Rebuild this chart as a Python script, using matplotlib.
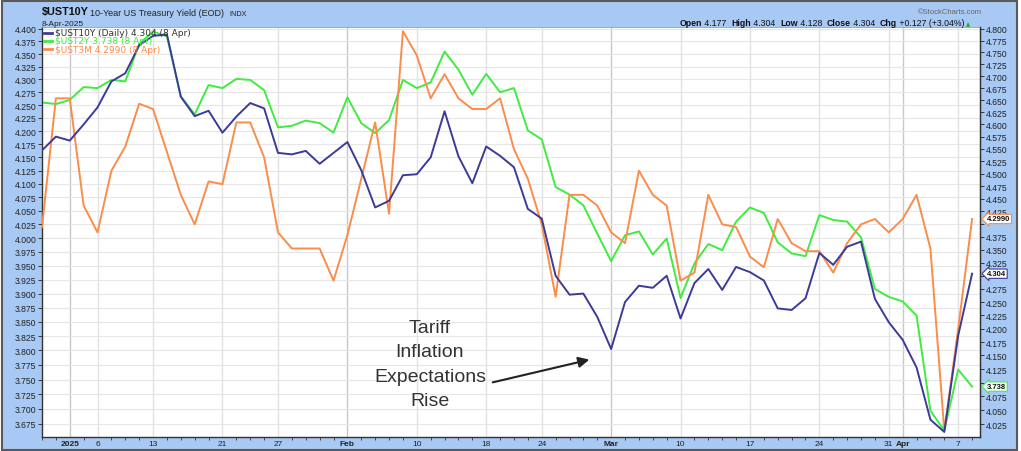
import numpy as np
import pandas as pd
import matplotlib
matplotlib.use('Agg')
import matplotlib.pyplot as plt
from matplotlib.lines import Line2D
from matplotlib.patches import Rectangle
from matplotlib.ticker import FixedLocator, NullLocator, FuncFormatter
from matplotlib.transforms import blended_transform_factory

plt.rcParams['font.family'] = ['Liberation Sans', 'DejaVu Sans']

# trading days on the chart (30 Dec 2024 .. 8 Apr 2025)
holidays = ['2025-01-01', '2025-01-09', '2025-01-20', '2025-02-17']
dates = pd.bdate_range('2024-12-30', '2025-04-08', freq='C', holidays=holidays)

# 10-year yield (right scale)
ust10y = [4.547, 4.575, 4.567, 4.600, 4.635, 4.689, 4.706, 4.765, 4.785, 4.788,
          4.657, 4.617, 4.628, 4.583, 4.616, 4.644, 4.633, 4.542, 4.539, 4.546,
          4.520, 4.542, 4.564, 4.507, 4.433, 4.446, 4.497, 4.499, 4.533, 4.627,
          4.535, 4.481, 4.555, 4.536, 4.513, 4.430, 4.411, 4.300, 4.264, 4.266,
          4.222, 4.162, 4.250, 4.281, 4.277, 4.300, 4.219, 4.286, 4.313, 4.273,
          4.317, 4.307, 4.291, 4.238, 4.235, 4.257, 4.344, 4.321, 4.356, 4.366,
          4.256, 4.212, 4.179, 4.128, 4.033, 4.011, 4.187, 4.304]

# 2-year yield (left scale)
ust2y = [4.255, 4.252, 4.260, 4.285, 4.283, 4.299, 4.296, 4.370, 4.395, 4.385,
         4.267, 4.232, 4.289, 4.283, 4.301, 4.299, 4.279, 4.207, 4.210, 4.220,
         4.215, 4.197, 4.265, 4.215, 4.196, 4.221, 4.299, 4.283, 4.294, 4.355,
         4.319, 4.270, 4.311, 4.275, 4.283, 4.201, 4.184, 4.094, 4.080, 4.060,
         4.008, 3.958, 4.005, 4.012, 3.970, 3.999, 3.892, 3.954, 3.989, 3.978,
         4.030, 4.056, 4.046, 3.992, 3.972, 3.967, 4.042, 4.033, 4.030, 4.001,
         3.908, 3.894, 3.886, 3.861, 3.697, 3.664, 3.767, 3.738]

# 3-month yield (own hidden scale)
ust3m = [4.296, 4.344, 4.344, 4.304, 4.294, 4.317, 4.326, 4.342, 4.340, 4.324,
         4.308, 4.297, 4.313, 4.312, 4.335, 4.335, 4.322, 4.294, 4.288, 4.288,
         4.288, 4.276, 4.293, 4.314, 4.335, 4.301, 4.369, 4.360, 4.344, 4.353,
         4.344, 4.340, 4.340, 4.344, 4.325, 4.314, 4.297, 4.270, 4.308, 4.308,
         4.304, 4.294, 4.290, 4.317, 4.308, 4.304, 4.276, 4.279, 4.308, 4.297,
         4.296, 4.285, 4.281, 4.299, 4.290, 4.287, 4.287, 4.279, 4.290, 4.297,
         4.299, 4.294, 4.299, 4.308, 4.288, 4.220, 4.258, 4.299]

tick_dates = ['2025-01-02', '2025-01-06', '2025-01-13', '2025-01-21', '2025-01-27',
              '2025-02-03', '2025-02-10', '2025-02-18', '2025-02-24', '2025-03-03',
              '2025-03-10', '2025-03-17', '2025-03-24', '2025-03-31', '2025-04-01',
              '2025-04-07']
tick_labels = ['2025', '6', '13', '21', '27', 'Feb', '10', '18', '24', 'Mar',
               '10', '17', '24', '31', 'Apr', '7']
month_labels = ['2025', 'Feb', 'Mar', 'Apr']

left_ticks = np.arange(3.675, 4.4001, 0.025)
right_ticks = np.arange(4.025, 4.8001, 0.025)

c10 = '#3b3b98'
c2 = '#3fec3f'
c3m = '#fb8c4a'
frame_blue = '#a8c9f3'

W, H = 1021, 452
fig = plt.figure(figsize=(W / 100, H / 100), dpi=100, facecolor='white')


def fx(px):
    return px / W


def fy(py):
    return 1 - py / H


fig.patches.append(Rectangle((fx(2), fy(450.5)), fx(1015), 448.5 / H, transform=fig.transFigure,
                             facecolor=frame_blue, edgecolor='#5a5a5a', lw=1.5, zorder=-5))

ax = fig.add_axes([fx(42), fy(438), 938 / W, 410 / H])
ax3 = ax.twinx()
ax2 = ax.twinx()

x = np.arange(len(dates))
xticks = [dates.get_loc(pd.Timestamp(d)) for d in tick_dates]
jan2 = dates.get_loc(pd.Timestamp('2025-01-02'))

# 2Y on the left scale
ax.plot(x, ust2y, color=c2, lw=1.4)
ax.set_yscale('log')
ax.set_ylim(3.653, 4.404)
ax.yaxis.set_major_locator(FixedLocator(left_ticks))
ax.yaxis.set_minor_locator(NullLocator())
ax.yaxis.set_major_formatter(FuncFormatter(lambda v, p: f'{v:.3f}'))
ax.set_xlim(jan2 - 20 / 14, jan2 + 918 / 14)
ax.grid(axis='y', color='#e6e6e6', lw=0.8)
ax.set_axisbelow(True)
for xt, lab in zip(xticks, tick_labels):
    col = '#c8c8c8' if lab in month_labels else '#e2e2e2'
    ax.axvline(xt, color=col, lw=1.0, zorder=0)
ax.set_xticks(xticks)
ax.set_xticklabels(tick_labels)
ax.set_xticks(x, minor=True)
ax.tick_params(axis='x', which='major', length=0, pad=2.5, labelsize=6, colors='#222222')
ax.tick_params(axis='x', which='minor', length=2, width=0.6, direction='out', color='#333333')
ax.tick_params(axis='y', direction='out', length=3, width=0.6, labelsize=6.2, pad=1,
               colors='#222222')
for t in ax.get_xticklabels():
    if t.get_text() in month_labels:
        t.set_fontweight('bold')
for side in ['left', 'bottom', 'right']:
    ax.spines[side].set_color('#333333')
    ax.spines[side].set_linewidth(1.0)
ax.spines['top'].set_color('#9a9a9a')
ax.spines['top'].set_linewidth(0.6)

# 3M on its own hidden scale
ax3.plot(x, ust3m, color=c3m, lw=1.4)
ax3.set_ylim(4.2177, 4.3706)
ax3.axis('off')

# 10Y on the right scale
ax2.plot(x, ust10y, color=c10, lw=1.4)
ax2.set_yscale('log')
ax2.set_ylim(4.002, 4.804)
ax2.yaxis.set_major_locator(FixedLocator(right_ticks))
ax2.yaxis.set_minor_locator(NullLocator())
ax2.tick_params(axis='y', direction='out', length=3, width=0.6, labelsize=6.2, pad=1,
                colors='#222222')
for side in ['left', 'top', 'bottom']:
    ax2.spines[side].set_visible(False)
ax2.spines['right'].set_color('#333333')

# last-value tags on the right axis; tick labels hidden under a tag are dropped
tags = [(ax3, ust3m[-1], f'{ust3m[-1]:.4f}', c3m),
        (ax2, ust10y[-1], f'{ust10y[-1]:.3f}', c10),
        (ax, ust2y[-1], f'{ust2y[-1]:.3f}', c2)]
tag_px = [src.transData.transform((0, val))[1] for src, val, _, _ in tags]


def right_fmt(v, p):
    ypix = ax2.transData.transform((0, v))[1]
    if any(abs(ypix - t) < 7.5 for t in tag_px):
        return ''
    return f'{v:.3f}'


ax2.yaxis.set_major_formatter(FuncFormatter(right_fmt))

for src, val, txt, col in tags:
    tr = blended_transform_factory(ax2.transAxes, src.transData)
    ax2.annotate(txt, xy=(1.0, val), xycoords=tr, xytext=(5, 0), textcoords='offset points',
                 ha='left', va='center', fontsize=5.5, fontweight='bold', color='#111111',
                 bbox=dict(boxstyle='larrow,pad=0.15', fc='white', ec=col, lw=0.8),
                 annotation_clip=False, zorder=20)

# legend
leg_rows = [(f'$UST10Y (Daily) {ust10y[-1]:.3f} (8 Apr)', c10, '#333333'),
            (f'$UST2Y {ust2y[-1]:.3f} (8 Apr)', c2, c2),
            (f'$UST3M {ust3m[-1]:.4f} (8 Apr)', c3m, c3m)]
for k, (txt, lc, tc) in enumerate(leg_rows):
    yy = 33.5 + 8.4 * k
    fig.lines.append(Line2D([fx(44), fx(52)], [fy(yy), fy(yy)], color=lc, lw=2.0,
                            transform=fig.transFigure))
    fig.text(fx(55), fy(yy), txt, fontsize=6.5, color=tc, va='center', ha='left',
             family='DejaVu Sans')

# annotation
ax2.text(0.4136, 0.178, 'Tariff\nInflation\nExpectations\nRise', transform=ax2.transAxes,
         ha='center', va='center', fontsize=14, color='#333333', linespacing=1.57, zorder=15)
ax2.annotate('', xy=(0.5864, 0.1902), xytext=(0.4776, 0.1317), xycoords='axes fraction',
             arrowprops=dict(arrowstyle='-|>', color='#222222', lw=1.5, mutation_scale=16),
             zorder=15)

# header
renderer = fig.canvas.get_renderer()
fig.text(fx(42), fy(15.5), '$UST10Y', fontsize=7.8, fontweight='bold', va='baseline', color='#111111')
t = fig.text(fx(90), fy(15.5), '10-Year US Treasury Yield (EOD)', fontsize=6.5, va='baseline',
             color='#222222')
end = 90 + t.get_window_extent(renderer).width
fig.text(fx(end + 5), fy(15.5), 'INDX', fontsize=5.2, va='baseline', color='#222222')
fig.text(fx(42), fy(25.5), '8-Apr-2025', fontsize=6, va='baseline', color='#222222')
fig.text(fx(982), fy(14.5), '\u00a9StockCharts.com', fontsize=5.5, va='baseline', ha='right',
         color='#666666')

parts = [('Open', True), (' 4.177  ', False), ('High', True), (' 4.304  ', False),
         ('Low', True), (' 4.128  ', False), ('Close', True), (' 4.304  ', False),
         ('Chg', True), (' +0.127 (+3.04%)', False)]
xpos = 680
for txt, bold in parts:
    t = fig.text(fx(xpos), fy(26.5), txt, fontsize=6.3, va='baseline', ha='left',
                 fontweight='bold' if bold else 'normal', color='#111111')
    xpos += t.get_window_extent(renderer).width
fig.text(fx(xpos + 2), fy(26.5), '\u25b2', fontsize=4, va='baseline', color='#22aa22',
         family='DejaVu Sans')

fig.savefig('out.png', dpi=100, facecolor=fig.get_facecolor())
